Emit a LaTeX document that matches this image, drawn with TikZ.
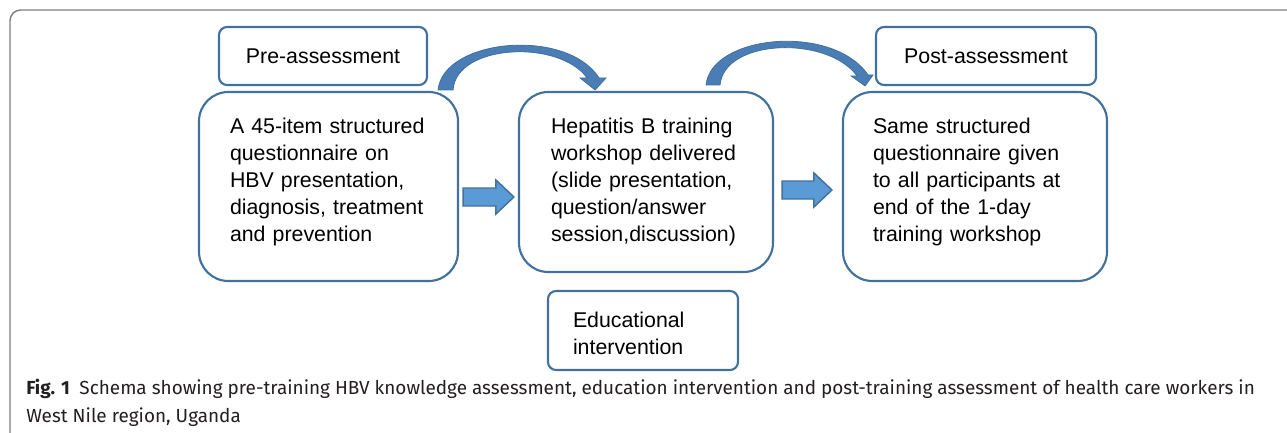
\documentclass[tikz,border=0pt]{standalone}
\usepackage{fontspec}
\setmainfont{Liberation Sans}
\newfontfamily\capfont{Fira Sans}
\usepackage{xcolor}
\usepackage{tikz}
\usetikzlibrary{arrows.meta,positioning,calc}

\definecolor{boxline}{HTML}{41719C}
\definecolor{arrowfill}{HTML}{5B9BD5}
\definecolor{curvefill}{HTML}{4A7DB5}
\definecolor{framegray}{HTML}{7F7F7F}
\definecolor{captext}{HTML}{231F20}

% straight block arrow from tail point #1 to tip point #2
\newcommand\fatarrow[2]{%
  \filldraw[fill=arrowfill,draw=boxline,line width=1.1pt,line join=miter]
    let \p1=(#1), \p2=(#2) in
    (\x1,\y1+6.75pt) -- (\x2-13.5pt,\y2+6.75pt) -- (\x2-13.5pt,\y2+12.75pt)
    -- (\x2,\y2) -- (\x2-13.5pt,\y2-12.75pt) -- (\x2-13.5pt,\y2-6.75pt)
    -- (\x1,\y1-6.75pt) -- cycle;}

\begin{document}
\begin{tikzpicture}[
    x=0.75pt,y=-0.75pt,
    bigbox/.style={draw=boxline,line width=1.6pt,rounded corners=22pt,
      align=left,inner xsep=23pt,inner ysep=0pt,
      font=\fontsize{16pt}{20.25pt}\selectfont},
    tagbox/.style={draw=boxline,line width=1.6pt,rounded corners=6pt,
      align=center,inner sep=0pt,
      font=\fontsize{16pt}{20.25pt}\selectfont},
    curvearrow/.style={fill=curvefill,draw=boxline,line width=0.6pt}
  ]
  \useasboundingbox (0,0) rectangle (1287,432);
  \begin{scope}
    \clip (0,0) rectangle (1287,432);
    \draw[framegray,line width=1.1pt,rounded corners=8pt] (10,10) rectangle (1320,460);
  \end{scope}

  % the three stages
  \node[bigbox,minimum width=194.25pt,minimum height=141.75pt,text width=147.75pt,
    execute at end node={\par\vspace*{6.75pt}}]
    (quest) at (328.5,186.5)
    {A 45-item structured\\questionnaire on\\HBV presentation,\\diagnosis, treatment\\and prevention};
  \node[bigbox,minimum width=189pt,minimum height=135pt,text width=142.5pt,inner xsep=24pt]
    (workshop) at (646,182)
    {Hepatitis B training\\workshop delivered\\(slide presentation,\\question/answer\\session,discussion)};
  \node[bigbox,minimum width=198pt,minimum height=141.75pt,text width=153pt,inner xsep=22.5pt,
    execute at end node={\par\vspace*{6.75pt}}]
    (postq) at (975,186.5)
    {Same structured\\questionnaire given\\to all participants at\\end of the 1-day\\training workshop};

  % labels over and under the stages
  \node[tagbox,minimum width=156pt,minimum height=43.5pt] (preass) at (323,56) {Pre-assessment};
  \node[tagbox,minimum width=165pt,minimum height=43.5pt] (postass) at (986,56) {Post-assessment};
  \node[tagbox,align=left,minimum width=142.5pt,minimum height=59.25pt,
    text width=105pt,inner xsep=18.75pt,
    execute at end node={\par\vspace*{-4.5pt}}] (eduint) at (643,330.5)
    {Educational\\intervention};

  % block arrows between the stages
  \fatarrow{$(quest.east)+(4,10.5)$}{$(workshop.west |- quest.east)+(-4,10.5)$}
  \fatarrow{$(workshop.east)+(8,8)$}{$(postq.west)+(-10,3.5)$}

  % curved arrows over the top
  \begin{scope}[shift={(quest.north east)}]
    \filldraw[curvearrow] (-21,-1) .. controls (-16,-52) and (107,-64) .. (140,-13)
      -- (147,-13) -- (136,-1) -- (121,-13) -- (128,-13)
      .. controls (100,-52) and (-3,-47) .. (-6,-1) -- cycle;
  \end{scope}
  \begin{scope}[shift={(workshop.north east)}]
    \filldraw[curvearrow] (-68,-6) .. controls (-63,-56) and (58,-68) .. (94,-16)
      -- (99,-16) -- (91,-5) -- (77,-15) -- (83,-15)
      .. controls (53,-56) and (-50,-52) .. (-54,-6) -- cycle;
  \end{scope}

  % caption
  \node[anchor=north west,align=left,inner sep=0pt,text=captext,
    font=\capfont\fontsize{14.2pt}{21pt}\selectfont] (caption) at (26,379)
    {\textbf{Fig. 1}\enspace Schema showing pre-training HBV knowledge assessment, education intervention and post-training assessment of health care workers in\\West Nile region, Uganda};
\end{tikzpicture}
\end{document}
